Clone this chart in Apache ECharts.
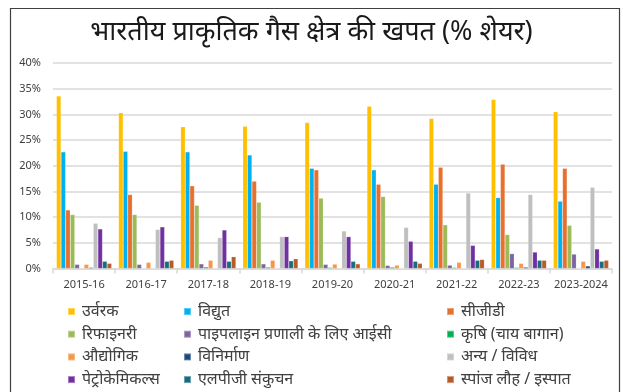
<!DOCTYPE html>
<html>
<head>
<meta charset="utf-8">
<script src="https://cdn.jsdelivr.net/npm/echarts@6/dist/echarts.min.js"></script>
<style>
  html, body { margin: 0; padding: 0; background: #ffffff; }
  #chart { width: 623px; height: 392px; }
</style>
</head>
<body>
<div id="chart"></div>
<script>
// Financial years on the category axis
const years = ['2015-16', '2016-17', '2017-18', '2018-19', '2019-20', '2020-21', '2021-22', '2022-23', '2023-2024'];

// Share of natural gas consumption by sector (%)
const urvarak      = [33.6, 30.3, 27.6, 27.7, 28.4, 31.6, 29.2, 32.9, 30.5];
const vidyut       = [22.7, 22.8, 22.7, 22.1, 19.5, 19.2, 16.4, 13.8, 13.1];
const cgd          = [11.4, 14.4, 16.1, 17.0, 19.2, 16.4, 19.7, 20.3, 19.5];
const refinery     = [10.5, 10.5, 12.3, 12.9, 13.7, 14.0, 8.5, 6.6, 8.4];
const pipelineIce  = [0.8, 0.8, 0.9, 0.9, 0.8, 0.6, 0.65, 2.9, 2.8];
const krishi       = [0.05, 0.05, 0.3, 0.26, 0.2, 0.26, 0.2, 0.2, 0.05];
const audyogik     = [0.8, 1.2, 1.6, 1.6, 0.85, 0.65, 1.2, 1.0, 1.4];
const vinirman     = [0.2, 0.05, 0.05, 0.05, 0.1, 0.05, 0.05, 0.26, 0.5];
const anya         = [8.8, 7.6, 6.0, 6.2, 7.3, 8.0, 14.7, 14.4, 15.8];
const petrochem    = [7.7, 8.1, 7.5, 6.2, 6.2, 5.3, 4.5, 3.2, 3.8];
const lpg          = [1.4, 1.4, 1.4, 1.5, 1.4, 1.4, 1.6, 1.6, 1.4];
const sponge       = [1.0, 1.6, 2.3, 1.9, 0.9, 1.0, 1.75, 1.6, 1.6];

// Value axis tick labels
const yTicks = ['0%', '5%', '10%', '15%', '20%', '25%', '30%', '35%', '40%'];

const seriesDefs = [
  { name: 'उर्वरक', data: urvarak, color: '#FFC000' },
  { name: 'विद्युत', data: vidyut, color: '#00B0F0' },
  { name: 'सीजीडी', data: cgd, color: '#E8702E' },
  { name: 'रिफाइनरी', data: refinery, color: '#9BBB59' },
  { name: 'पाइपलाइन प्रणाली के लिए आईसी', data: pipelineIce, color: '#8064A2' },
  { name: 'कृषि (चाय बागान)', data: krishi, color: '#00B050' },
  { name: 'औद्योगिक', data: audyogik, color: '#F79646' },
  { name: 'विनिर्माण', data: vinirman, color: '#1F497D' },
  { name: 'अन्य / विविध', data: anya, color: '#BFBFBF' },
  { name: 'पेट्रोकेमिकल्स', data: petrochem, color: '#7030A0' },
  { name: 'एलपीजी संकुचन', data: lpg, color: '#176C7D' },
  { name: 'स्पांज लौह / इस्पात', data: sponge, color: '#B85A28' }
];

const font = "'Noto Sans', 'Noto Sans Devanagari', 'Lohit Devanagari', sans-serif";

const legendBase = {
  orient: 'vertical',
  top: 298,
  height: 92,
  itemWidth: 7,
  itemHeight: 7,
  itemGap: 5.7,
  icon: 'rect',
  textStyle: { fontFamily: font, fontSize: 16, color: '#404040', lineHeight: 17, padding: [0, 0, 0, 2] },
  selectedMode: false
};

const names = seriesDefs.map(s => s.name);

const chart = echarts.init(document.getElementById('chart'), null, { renderer: 'canvas' });
chart.setOption({
  animation: false,
  backgroundColor: '#ffffff',
  title: {
    text: 'भारतीय प्राकृतिक गैस क्षेत्र की खपत (% शेयर)',
    left: 'center',
    top: 14,
    textStyle: { fontFamily: font, fontSize: 27, fontWeight: 'normal', color: '#1a1a1a' }
  },
  graphic: [{
    type: 'rect',
    shape: { x: 10.5, y: 8.5, width: 609, height: 400 },
    style: { fill: 'none', stroke: '#404040', lineWidth: 1.2 },
    silent: true
  }],
  legend: [
    Object.assign({}, legendBase, { left: 62, data: [names[0], names[3], names[6], names[9]] }),
    Object.assign({}, legendBase, { left: 178, data: [names[1], names[4], names[7], names[10]] }),
    Object.assign({}, legendBase, { left: 441, data: [names[2], names[5], names[8], names[11]] })
  ],
  grid: { left: 53, right: 11, top: 63, bottom: 123.5, containLabel: false },
  xAxis: {
    type: 'category',
    data: years,
    axisLine: { lineStyle: { color: '#D9D9D9', width: 1.5 } },
    axisTick: { show: true, alignWithLabel: false, length: 5, lineStyle: { color: '#D9D9D9', width: 1.5 } },
    axisLabel: { fontFamily: font, fontSize: 11, color: '#404040', margin: 11, interval: 0 }
  },
  yAxis: {
    type: 'value',
    min: 0,
    max: 40,
    interval: 5,
    axisLine: { show: false },
    axisTick: { show: false },
    axisLabel: {
      fontFamily: font, fontSize: 11, color: '#404040', margin: 12,
      formatter: v => yTicks[Math.round(v / 5)]
    },
    splitLine: { lineStyle: { color: '#D9D9D9', width: 1.5 } }
  },
  series: seriesDefs.map(s => ({
    name: s.name,
    type: 'bar',
    data: s.data,
    barGap: '0%',
    barCategoryGap: '11%',
    itemStyle: { color: s.color, borderColor: 'rgba(255,255,255,0.35)', borderWidth: 0.5 }
  }))
});
</script>
</body>
</html>
